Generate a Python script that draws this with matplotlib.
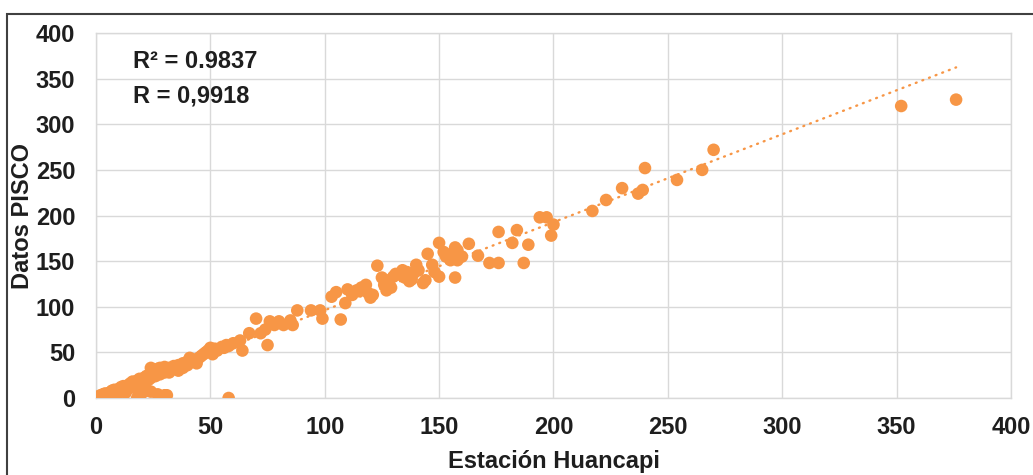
import matplotlib.pyplot as plt
import numpy as np
from matplotlib.patches import Rectangle

# Monthly precipitation: station vs PISCO product
estacion = [
    0, 0.5, 1, 1.5, 2, 2, 3, 3, 4, 4, 5, 5, 6, 6, 7, 7, 8, 8, 9, 9,
    10, 10, 11, 11, 12, 12, 13, 13, 14, 14, 15, 15, 16, 16, 17, 17, 18, 18, 19, 19,
    20, 20, 21, 21, 22, 22, 23, 23, 24, 24, 25, 25, 26, 26, 27, 27, 28, 28, 29, 30,
    30, 31, 32, 32, 33, 34, 35, 36, 36, 37, 38, 38, 39, 40, 40, 41, 42, 43, 44, 45,
    46, 47, 48, 49, 50, 51, 52, 53, 55, 56, 57, 58, 60,
    18, 20, 22, 24, 27, 30, 31, 58,
    63, 64, 67, 70, 72, 74, 75, 76, 78, 80, 82, 85, 86, 88, 94, 98, 99,
    103, 105, 107, 109, 110, 112, 114, 115, 116, 118, 119, 120, 121, 123, 125, 126, 127, 128, 129,
    130, 131, 133, 134, 135, 136, 137, 138, 139, 140, 141, 143, 144, 145, 147, 148, 150, 150, 152, 153,
    154, 155, 156, 157, 157, 158, 158, 160, 163, 167, 172, 176, 176, 182, 184, 187, 189, 194, 197, 199,
    200, 217, 223, 230, 237, 239, 240, 254, 265, 270, 352, 376,
]
pisco = [
    0, 1, 0, 2, 0, 3, 1, 4, 2, 5, 0, 3, 6, 2, 4, 8, 5, 9, 7, 3,
    10, 6, 9, 12, 8, 13, 11, 6, 14, 10, 12, 16, 14, 18, 15, 11, 19, 16, 17, 21,
    20, 16, 22, 19, 18, 24, 20, 25, 22, 33, 26, 30, 24, 29, 32, 27, 26, 33, 30, 28,
    34, 30, 33, 28, 31, 35, 33, 30, 36, 35, 38, 33, 36, 40, 36, 44, 40, 42, 38, 44,
    46, 48, 50, 52, 55, 48, 54, 52, 56, 55, 58, 57, 60,
    0, 5, 8, 7, 4, 3, 3, 0,
    63, 52, 71, 87, 71, 75, 58, 84, 80, 84, 80, 85, 80, 96, 96, 96, 87,
    111, 116, 86, 104, 119, 113, 118, 117, 121, 124, 115, 110, 113, 145, 132, 124, 118, 129, 121,
    133, 136, 135, 140, 132, 138, 128, 130, 137, 146, 140, 126, 129, 158, 146, 138, 170, 133, 160, 155,
    157, 151, 157, 132, 165, 162, 151, 155, 169, 156, 148, 148, 182, 170, 184, 148, 168, 198, 198, 178,
    190, 205, 217, 230, 224, 228, 252, 239, 250, 272, 320, 327,
]

r2_text = "R² = 0.9837"
r_text = "R = 0,9918"

orange = "#F79646"
grid_gray = "#D9D9D9"
text_col = "#1E1E1E"
fs = 17

plt.rcParams['font.family'] = ['Liberation Sans', 'DejaVu Sans']

fig = plt.figure(figsize=(10.33, 4.75), dpi=100)
ax = fig.add_axes([0.0929, 0.1621, 0.8858, 0.7684])

x = np.array(estacion, dtype=float)
y = np.array(pisco, dtype=float)

ax.scatter(x, y, s=82, color=orange, edgecolors='none', zorder=3)

# linear trend line through the data
slope, intercept = np.polyfit(x, y, 1)
xt = np.array([0, x.max()])
ax.plot(xt, slope * xt + intercept, color=orange, linewidth=1.7,
        linestyle=(0, (0.4, 2.6)), dash_capstyle='round', zorder=2)

ax.set_xlim(0, 400)
ax.set_ylim(0, 400)
ax.set_xticks(np.arange(0, 401, 50))
ax.set_yticks(np.arange(0, 401, 50))
ax.grid(True, color=grid_gray, linewidth=1.0)
ax.set_axisbelow(True)
for sp in ax.spines.values():
    sp.set_color(grid_gray)
    sp.set_linewidth(1.0)
ax.tick_params(length=0, labelsize=fs, colors=text_col)
ax.tick_params(axis='y', pad=15)
ax.tick_params(axis='x', pad=13)
for lbl in ax.get_xticklabels() + ax.get_yticklabels():
    lbl.set_fontweight('bold')

ax.set_xlabel("Estación Huancapi", fontsize=fs, fontweight='bold', color=text_col, labelpad=8)
ax.set_ylabel("Datos PISCO", fontsize=fs, fontweight='bold', color=text_col, labelpad=1)

ax.text(16, 361.5, r2_text, fontsize=fs, fontweight='bold', color=text_col, va='baseline')
ax.text(16, 323.5, r_text, fontsize=fs, fontweight='bold', color=text_col, va='baseline')

# outer frame of the chart area
fig.patches.append(Rectangle((7 / 1033, -0.1), 1.1, (475 - 14) / 475 + 0.1,
                             transform=fig.transFigure, fill=False,
                             edgecolor='#404040', linewidth=1.5))

fig.savefig("out.png", dpi=100)
